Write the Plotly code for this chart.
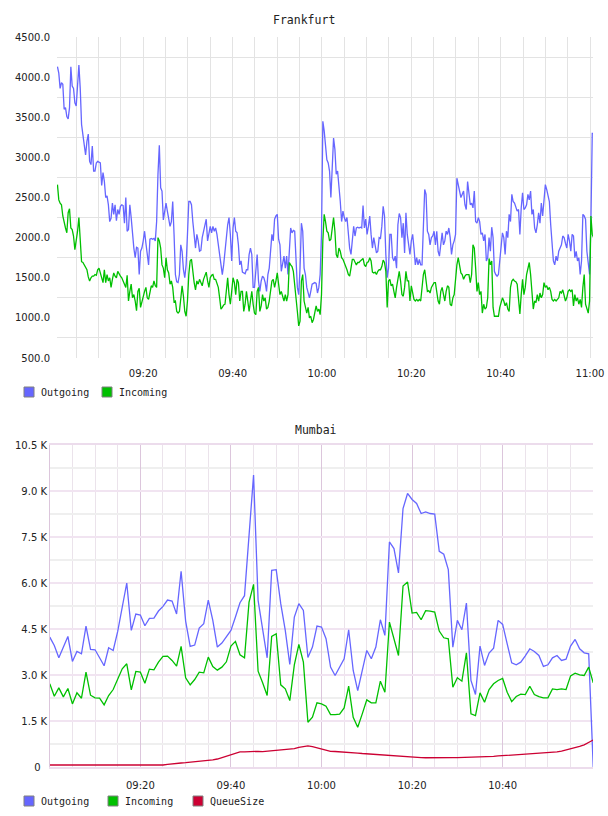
import pandas as pd
import plotly.graph_objects as go

# ---------------- Frankfurt (18 s samples) ----------------
fra_start = "2024-01-01 09:00:48"
fra_step = "18s"
fra_outgoing = [
    4130, 4050, 3860, 3930, 3910, 3600, 3620, 3510, 3480, 3620, 4130, 3890, 3860, 3680, 3640, 3860, 4150, 3860, 3410, 3280,
    3160, 3030, 3200, 3290, 2950, 2910, 3140, 2830, 2830, 2930, 2950, 2940, 2930, 2650, 2810, 2700, 2500, 2520, 2410, 2200,
    2240, 2430, 2290, 2410, 2210, 2350, 2290, 2390, 2410, 2400, 2180, 2500, 2080, 2100, 2410, 2250, 2040, 1870, 1750, 1880,
    1870, 1540, 1830, 1870, 1960, 2080, 1930, 1790, 1660, 1980, 1990, 1980, 1990, 1960, 2200, 2790, 3150, 2620, 2580, 2220,
    2330, 2430, 2330, 2250, 2140, 2200, 2450, 2040, 1540, 1450, 1440, 1540, 1910, 1830, 1600, 1500, 1660, 2040, 2450, 2450,
    2410, 2200, 2040, 1870, 2040, 1960, 1830, 1840, 2000, 2080, 2120, 2230, 1960, 2080, 2140, 2060, 2140, 2080, 2120, 2040,
    1930, 1790, 1660, 1540, 1660, 1830, 2040, 2160, 2250, 2040, 1710, 2120, 2250, 2080, 2060, 1910, 1660, 1710, 1570, 1560,
    1550, 1600, 1600, 1790, 1870, 1790, 1380, 1380, 1620, 1790, 1460, 1330, 1460, 1520, 1500, 1440, 1330, 1540, 1620, 1830,
    2040, 1960, 2230, 2270, 2290, 1980, 1910, 1580, 1660, 1770, 1620, 1770, 1540, 1910, 2120, 2060, 2090, 2080, 1710, 1380,
    1290, 1620, 2180, 2080, 1620, 1540, 1380, 1310, 1250, 1330, 1420, 1430, 1440, 1430, 1310, 1380, 1540, 2040, 3450, 3330,
    3080, 2970,
    2930, 2830, 2500, 2890, 3240, 3100, 2790, 2830, 2660, 2450, 2200, 2330, 2250, 2200, 2250, 2040, 1870, 1790, 2000, 2140,
    2020, 2120, 2130, 2120, 2130, 2120, 2400, 2120, 2230, 2040, 2140, 2270, 2040, 1870, 2000, 1870, 1810, 1830, 2000, 1990,
    2140, 2390, 2270, 1790, 1500, 1620, 2040, 2040, 1750, 1710, 1770, 1620, 2160, 2300, 2250, 2000, 2180, 1810, 2310, 2040,
    1910, 1790, 1960, 2040, 1870, 1660, 1750, 1660, 1730, 1660, 1660, 2200, 2600, 2540, 2080, 2040, 1910, 2000, 2020, 2080,
    1910, 2080, 1830, 1770, 1960, 2060, 1910, 1960, 2080, 2040, 2120, 2000, 1790, 1910, 1960, 2040, 2740, 2660, 2560, 2500,
    2540, 2580, 2410, 2350, 2700, 2580, 2410, 2430, 2370, 2580, 2200, 2180, 2250, 2200, 2040, 2060, 1960, 2040, 1710, 1750,
    2000, 1830, 2130, 2000, 1580, 1540, 1520, 1540, 1710, 1910, 2060, 2000, 1790, 2080, 2000, 2290, 2200, 2540, 2450, 2430,
    2370, 2330, 2350, 2040, 2370, 2560, 2350, 2370, 2410, 2540, 2470, 2580, 2290, 2350, 2120, 2060, 2160, 2310, 2180, 2430,
    2270, 2540, 2660, 2600, 2500, 2450, 2160, 1870, 1710, 1660, 1770, 1710, 1830, 1870, 1910, 2020, 2000, 1930, 1870, 2040,
    1960, 1830, 2040, 2020, 1750, 1830, 1710, 1750, 1540, 1710, 2290, 2270, 2230, 1830, 1660, 1540, 2200, 3300, 3300,
]
fra_incoming = [
    2660, 2470, 2430, 2410, 2270, 2180, 2120, 2060, 2310, 2360, 2120, 2100, 2020, 1850, 1960, 2080, 2250, 1960, 1700, 1690,
    1660, 1620, 1600, 1510, 1460, 1500, 1520, 1520, 1540, 1530, 1600, 1620, 1560, 1480, 1440, 1600, 1440, 1540, 1460, 1500,
    1380, 1480, 1560, 1520, 1500, 1580, 1540, 1520, 1500, 1460, 1420, 1380, 1530, 1210, 1330, 1420, 1250, 1290, 1210, 1090,
    1330, 1370, 1130, 1210, 1250, 1330, 1380, 1250, 1230, 1330, 1400, 1380, 1460, 1400, 1380, 2000, 1960, 1870, 1660, 1620,
    1500, 1750, 1600, 1560, 1420, 1460, 1380, 1200, 1210, 1080, 1060, 1080, 1210, 1400, 1270, 1080, 1020, 1210, 1540, 1710,
    1730, 1540, 1440, 1350, 1460, 1420, 1480, 1440, 1400, 1480, 1540, 1570, 1460, 1380, 1500, 1530, 1540, 1480, 1480, 1440,
    1380, 1250, 1110, 1130, 1160, 1170, 1330, 1500, 1290, 1170, 1330, 1500, 1440, 1290, 1480, 1440, 1210, 1330, 1330, 1080,
    1170, 1330, 1210, 1080, 1210, 1330, 1170, 1060, 1040, 1330, 1380, 1080, 1150, 1290, 1210, 1250, 1110, 1130, 1210, 1380,
    1460, 1480, 1380, 1460, 1560, 1420, 1290, 1330, 1270, 1210, 1290, 1210, 1290, 1690, 1660, 1640, 1580, 1380, 1210, 1080,
    900, 960, 1460, 1540, 1210, 1130, 1060, 1130, 1000, 1020, 940, 980, 1080, 1150, 1080, 1110, 1040, 1290, 1960, 2290,
    2200, 2080,
    2060, 1960, 1980, 2120, 2250, 2080, 1790, 1750, 1870, 1830, 1750, 1730, 1690, 1660, 1600, 1540, 1520, 1620, 1730, 1730,
    1690, 1660, 1690, 1690, 1710, 1720, 1740, 1660, 1640, 1690, 1700, 1750, 1710, 1570, 1560, 1570, 1540, 1580, 1600, 1600,
    1640, 1720, 1690, 1580, 1130, 1460, 1480, 1400, 1420, 1330, 1250, 1380, 1460, 1580, 1460, 1290, 1270, 1380, 1580, 1460,
    1460, 1210, 1400, 1330, 1230, 1210, 1230, 1210, 1230, 1210, 1420, 1540, 1600, 1460, 1330, 1340, 1310, 1380, 1420, 1440,
    1440, 1290, 1210, 1170, 1330, 1380, 1290, 1210, 1330, 1400, 1380, 1170, 1150, 1250, 1290, 1540, 1660, 1750, 1620, 1560,
    1540, 1480, 1520, 1540, 1540, 1540, 1440, 1540, 1910, 1870, 1620, 1330, 1440, 1290, 1330, 1060, 1170, 1110, 1130, 1250,
    1740, 1660, 1710, 1130, 1020, 1020, 1020, 1020, 1130, 1210, 1250, 1210, 1150, 1190, 1110, 1080, 1380, 1460, 1480, 1460,
    1450, 1420, 1250, 1050, 1290, 1480, 1290, 1380, 1540, 1600, 1690, 1540, 1330, 1110, 1210, 1190, 1290, 1210, 1310, 1250,
    1290, 1440, 1380, 1400, 1350, 1380, 1330, 1230, 1210, 1230, 1210, 1230, 1250, 1330, 1310, 1350, 1290, 1210, 1250, 1330,
    1350, 1330, 1350, 1150, 1290, 1210, 1250, 1170, 1230, 1130, 1380, 1540, 1170, 1110, 1060, 1210, 2270, 2040, 2000,
]

# ---------------- Mumbai (1 min samples) ----------------
mum_start = "2024-01-01 09:00:00"
mum_step = "1min"
mum_outgoing = [
    4236, 3964, 3561, 3931, 4258, 3441, 3768, 3692, 4596, 3833, 3822, 3561, 3300, 3888, 3801, 4421, 5216, 6000, 4454, 4988,
    4955, 4606, 4846, 4857, 5086, 5238, 5445, 5412, 4988, 6382, 4759, 3931, 3975, 4530, 4672, 5445, 4781, 3910, 4040, 4236,
    4454, 4890, 5358, 5587, 7503, 9518, 5434, 4454, 3561, 6414, 6436, 5325, 4454, 3343, 4890, 5325, 5107, 3572, 3910, 4596,
    4563, 4182, 3256, 2984, 3234, 3528, 4476, 3147, 2494, 3147, 3801, 3528, 3910, 4802, 4291, 7340, 7122, 6327, 8429, 8919,
    8723, 8592, 8266, 8320, 8266, 8244, 7035, 6937, 6436, 3910, 4781, 4476, 5347, 2821, 2363, 3942, 3311, 3713, 3877, 4781,
    4650, 4018, 3398, 3332, 3419, 3626, 3855, 3768, 3637, 3278, 3332, 3561, 3637, 3474, 3517, 3942, 4160, 3855, 3724, 3692,
    0,
]
mum_incoming = [
    2712, 2309, 2581, 2287, 2559, 2058, 2418, 2243, 3093, 2341, 2254, 2243, 2026, 2330, 2526, 2875, 3202, 3365, 2516, 3115,
    3093, 2733, 3191, 3169, 3419, 3605, 3615, 3474, 3289, 3931, 2908, 2679, 2853, 3093, 3071, 3583, 3278, 3158, 3256, 3430,
    3942, 4095, 3659, 3561, 5380, 5957, 3125, 2744, 2330, 4258, 4345, 2679, 2548, 2167, 3332, 3997, 3419, 1459, 1623, 2091,
    2058, 1982, 1710, 1710, 1721, 1928, 2635, 1623, 1296, 1732, 2189, 2091, 2091, 2799, 2439, 4726, 4182, 3637, 5902, 6033,
    5020, 5042, 4802, 5097, 5086, 5053, 4432, 4214, 4182, 2603, 2908, 2799, 3724, 1732, 1677, 2418, 2113, 2526, 2712, 2821,
    2886, 2439, 2134, 2298, 2374, 2363, 2635, 2363, 2298, 2254, 2254, 2548, 2526, 2548, 2526, 2973, 3060, 3006, 2984, 3256,
    2744,
]
mum_queue = [
    65, 70, 70, 70, 70, 70, 65, 65, 65, 65, 65, 55, 55, 55, 55, 55, 44, 44, 44, 44,
    44, 55, 55, 55, 55, 65, 87, 109, 120, 131, 141, 152, 163, 174, 196, 207, 229, 261, 305, 359,
    414, 457, 490, 490, 500, 512, 512, 500, 512, 534, 545, 555, 555, 566, 599, 642, 675, 686, 664, 620,
    588, 550, 512, 505, 500, 490, 480, 468, 455, 440, 428, 414, 403, 392, 380, 370, 360, 348, 338, 328,
    320, 312, 305, 302, 299, 296, 294, 296, 300, 305, 308, 310, 313, 316, 320, 326, 332, 338, 348, 360,
    370, 375, 381, 386, 392, 403, 414, 425, 436, 450, 463, 477, 490, 520, 555, 588, 620, 670, 720, 790,
    880,
]
mum_ytick_vals = [0, 1500, 3000, 4500, 6000, 7500, 9000, 10500]
mum_ytick_text = ["0\u00a0\u00a0", "1.5 K", "3.0 K", "4.5 K", "6.0 K", "7.5 K", "9.0 K", "10.5 K"]

fra_series = ["Outgoing", "Incoming"]
mum_series = ["Outgoing", "Incoming", "QueueSize"]

fra_time = pd.date_range(fra_start, periods=len(fra_outgoing), freq=fra_step)
mum_time = pd.date_range(mum_start, periods=len(mum_outgoing), freq=mum_step)

BLUE = "#6666ff"
GREEN = "#00c000"
RED = "#cc0033"
COLORS = {"Outgoing": BLUE, "Incoming": GREEN, "QueueSize": RED}
W = 608
H = 816
TICKFONT = dict(family="DejaVu Sans", size=10, color="#222222")
MONO = "DejaVu Sans Mono"
LW = 1.3

fig = go.Figure()
fig.add_trace(go.Scatter(x=fra_time, y=fra_outgoing, mode="lines", line=dict(color=BLUE, width=LW),
                         xaxis="x", yaxis="y", name="Outgoing"))
fig.add_trace(go.Scatter(x=fra_time, y=fra_incoming, mode="lines", line=dict(color=GREEN, width=LW),
                         xaxis="x", yaxis="y", name="Incoming"))
fig.add_trace(go.Scatter(x=mum_time, y=mum_outgoing, mode="lines", line=dict(color=BLUE, width=LW),
                         xaxis="x2", yaxis="y2", name="Outgoing"))
fig.add_trace(go.Scatter(x=mum_time, y=mum_incoming, mode="lines", line=dict(color=GREEN, width=LW),
                         xaxis="x2", yaxis="y2", name="Incoming"))
fig.add_trace(go.Scatter(x=mum_time, y=mum_queue, mode="lines", line=dict(color=RED, width=LW),
                         xaxis="x2", yaxis="y2", name="QueueSize"))

# ----- legends (swatch + label), laid out in pixels -----
shapes = []
annotations = []


def px_x(v):
    return v / W


def px_y(v):
    return 1 - v / H


def add_legend(names, swatch_lefts, cy):
    for name, left in zip(names, swatch_lefts):
        shapes.append(dict(type="rect", xref="paper", yref="paper",
                           x0=px_x(left), x1=px_x(left + 10), y0=px_y(cy + 5), y1=px_y(cy - 5),
                           fillcolor=COLORS[name], line=dict(color="#808080", width=1)))
        annotations.append(dict(text=name, x=px_x(left + 15), y=px_y(cy), xref="paper", yref="paper",
                                xanchor="left", yanchor="middle", showarrow=False,
                                font=dict(family=MONO, size=10, color="#222222")))


add_legend(fra_series, [24, 102], 392)
add_legend(mum_series, [24, 108, 193], 801)

annotations.append(dict(text="Frankfurt", x=px_x(304), y=px_y(20), xref="paper", yref="paper",
                        xanchor="center", yanchor="middle", showarrow=False,
                        font=dict(family=MONO, size=11.5, color="#222222")))
annotations.append(dict(text="Mumbai", x=px_x(316), y=px_y(430), xref="paper", yref="paper",
                        xanchor="center", yanchor="middle", showarrow=False,
                        font=dict(family=MONO, size=11.5, color="#222222")))

FIVE_MIN = 5 * 60 * 1000
TWENTY_MIN = 20 * 60 * 1000

fig.update_layout(
    width=W, height=H,
    margin=dict(l=0, r=0, t=0, b=0, autoexpand=False),
    showlegend=False,
    paper_bgcolor="white", plot_bgcolor="white",
    xaxis=dict(domain=[57 / W, 593 / W], anchor="y", type="date",
               range=["2024-01-01 09:00:42", "2024-01-01 11:00:40"],
               tick0="2024-01-01 09:00:00", dtick=TWENTY_MIN, tickformat="%H:%M",
               showgrid=True, gridcolor="#e3e3e3", gridwidth=1,
               minor=dict(tick0="2024-01-01 09:00:00", dtick=FIVE_MIN, showgrid=True,
                          gridcolor="#e3e3e3", gridwidth=1),
               showline=False, zeroline=False, ticks="", ticklabelstandoff=8,
               tickfont=TICKFONT, automargin=False),
    yaxis=dict(domain=[1 - 358 / H, 1 - 37 / H], anchor="x",
               range=[500, 4500], tick0=500, dtick=500, tickformat=".1f",
               showgrid=False,
               minor=dict(tick0=750, dtick=500, showgrid=True, gridcolor="#e3e3e3", gridwidth=1),
               showline=False, zeroline=False, ticks="", ticklabelstandoff=6,
               tickfont=TICKFONT, automargin=False),
    xaxis2=dict(domain=[50 / W, 593 / W], anchor="y2", type="date",
                range=["2024-01-01 09:00:03", "2024-01-01 10:59:57"],
                tick0="2024-01-01 09:00:00", dtick=TWENTY_MIN, tickformat="%H:%M",
                showgrid=True, gridcolor="#dcc6dc", gridwidth=1,
                minor=dict(tick0="2024-01-01 09:00:00", dtick=FIVE_MIN, showgrid=True,
                           gridcolor="#ebe3eb", gridwidth=1),
                showline=True, mirror=True, linecolor="#ecdcec", linewidth=2,
                zeroline=False, ticks="", ticklabelstandoff=8, tickfont=TICKFONT, automargin=False),
    yaxis2=dict(domain=[1 - 767 / H, 1 - 445 / H], anchor="x2",
                range=[0, 10500], tickmode="array", tickvals=mum_ytick_vals, ticktext=mum_ytick_text,
                showgrid=True, gridcolor="#f1e4f1", gridwidth=2,
                minor=dict(tick0=750, dtick=1500, showgrid=True, gridcolor="#efefef", gridwidth=2),
                showline=True, linecolor="#dcc6dc", linewidth=1,
                zeroline=False, ticks="", ticklabelstandoff=0, tickfont=TICKFONT, automargin=False),
    shapes=shapes,
    annotations=annotations,
)

fig.write_html("out.html")
